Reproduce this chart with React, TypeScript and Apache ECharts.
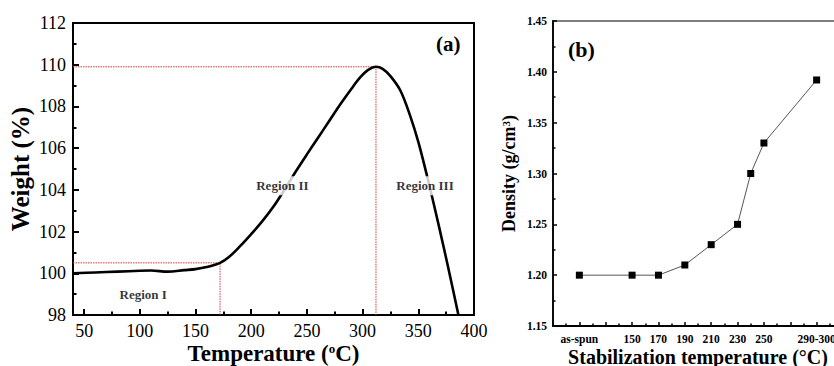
import React, { useEffect, useRef } from "react";
import * as echarts from "echarts";

// ---------- Panel (a): TGA weight curve ----------
const weightTemps = [40, 60, 80, 100, 110, 125, 140, 150, 160, 172, 180, 190, 200, 210, 220, 230, 240, 250, 260, 270, 280, 290, 298, 305, 312, 318, 325, 334, 343, 350, 357, 364, 373, 380, 386];
const weightValues = [100.0, 100.04, 100.08, 100.12, 100.13, 100.08, 100.15, 100.2, 100.3, 100.5, 100.78, 101.3, 101.88, 102.5, 103.2, 104.02, 104.88, 105.7, 106.5, 107.3, 108.1, 108.85, 109.4, 109.75, 109.9, 109.8, 109.45, 108.75, 107.5, 106.3, 104.85, 103.3, 101.2, 99.5, 98.0];
const tempTickLabels = [50, 100, 150, 200, 250, 300, 350, 400];
const tempMinorTicks = [75, 125, 175, 225, 275, 325, 375];
const plateauEnd = [172, 100.5];
const peakPoint = [312, 109.9];
const regionLabels: [number, number, string][] = [
  [103, 99.0, "Region I"],
  [228, 104.2, "Region II"],
  [356, 104.2, "Region III"],
];

// ---------- Panel (b): density ----------
const densityTemps = [110, 150, 170, 190, 210, 230, 240, 250, 290];
const densityValues = [1.2, 1.2, 1.2, 1.21, 1.23, 1.25, 1.3, 1.33, 1.392];
const densityLabelValues = [110, 150, 170, 190, 210, 230, 250, 290];
const densityLabelTexts = ["as-spun", "150", "170", "190", "210", "230", "250", "290-300"];

const SERIF = "'Liberation Serif', 'Times New Roman', serif";

export default function App() {
  const ref = useRef<HTMLDivElement>(null);
  useEffect(() => {
    if (!ref.current) return;
    const chart = echarts.init(ref.current, undefined, { renderer: "svg" });
    const xMin = 40;
    const yMin = 98;
    const option: any = {
      animation: false,
      backgroundColor: "#fff",
      textStyle: { fontFamily: SERIF },
      grid: [
        { left: 73, top: 23, width: 401, height: 292, outerBoundsMode: "none", containLabel: false, show: true, borderColor: "#000", borderWidth: 2, backgroundColor: "transparent" },
        { left: 553, top: 21, width: 290, height: 305, outerBoundsMode: "none", containLabel: false, show: true, borderColor: "#555", borderWidth: 1.5, backgroundColor: "transparent" },
      ],
      xAxis: [
        {
          gridIndex: 0, type: "value", min: xMin, max: 400,
          axisLine: { lineStyle: { color: "#000", width: 2 } },
          axisTick: { inside: true, length: 6, lineStyle: { color: "#000", width: 2 }, customValues: tempTickLabels },
          axisLabel: { customValues: tempTickLabels, color: "#000", fontSize: 18, fontFamily: SERIF, margin: 7 },
          splitLine: { show: false },
          name: "{t|Temperature (}{s|o}{t|C)}",
          nameLocation: "middle", nameGap: 27, nameMoveOverlap: false,
          nameTextStyle: {
            rich: {
              t: { fontSize: 23, fontWeight: "bold", fontFamily: SERIF, color: "#000" },
              s: { fontSize: 13, fontWeight: "bold", fontFamily: SERIF, color: "#000", verticalAlign: "top", lineHeight: 15 },
            },
          },
        },
        {
          gridIndex: 0, type: "value", min: xMin, max: 400, position: "bottom",
          axisLine: { show: false },
          axisTick: { inside: true, length: 3.5, lineStyle: { color: "#000", width: 2 }, customValues: tempMinorTicks },
          axisLabel: { show: false },
          splitLine: { show: false },
        },
        {
          gridIndex: 1, type: "value", min: 90, max: 310, interval: 20,
          axisLine: { lineStyle: { color: "#000", width: 1.8 } },
          axisTick: { inside: true, length: 4, lineStyle: { color: "#000", width: 1.5 } },
          minorTick: { show: true, splitNumber: 2, length: 2.5, lineStyle: { color: "#000", width: 1.5 } },
          axisLabel: {
            color: "#000", fontSize: 11.5, fontWeight: "bold", fontFamily: SERIF, margin: 7,
            formatter: (v: number) => {
              const i = densityLabelValues.indexOf(Math.round(v));
              return i >= 0 ? densityLabelTexts[i] : "";
            },
          },
          splitLine: { show: false },
          name: "Stabilization temperature (°C)",
          nameLocation: "middle", nameGap: 21, nameMoveOverlap: false,
          nameTextStyle: { fontSize: 20, fontWeight: "bold", fontFamily: SERIF, color: "#000" },
        },
      ],
      yAxis: [
        {
          gridIndex: 0, type: "value", min: yMin, max: 112, interval: 2,
          axisLine: { lineStyle: { color: "#000", width: 2 } },
          axisTick: { inside: true, length: 6, lineStyle: { color: "#000", width: 2 } },
          minorTick: { show: true, splitNumber: 2, length: 3.5, lineStyle: { color: "#000", width: 2 } },
          axisLabel: { color: "#000", fontSize: 18, fontFamily: SERIF, margin: 7 },
          splitLine: { show: false },
          name: "Weight (%)",
          nameLocation: "middle", nameGap: 40, nameMoveOverlap: false,
          nameTextStyle: { fontSize: 25, fontWeight: "bold", fontFamily: SERIF, color: "#000" },
        },
        {
          gridIndex: 1, type: "value", min: 1.15, max: 1.45, interval: 0.05,
          axisLine: { lineStyle: { color: "#000", width: 1.8 } },
          axisTick: { inside: true, length: 4, lineStyle: { color: "#000", width: 1.5 } },
          minorTick: { show: true, splitNumber: 2, length: 2.5, lineStyle: { color: "#000", width: 1.5 } },
          axisLabel: { color: "#000", fontSize: 11.5, fontWeight: "bold", fontFamily: SERIF, margin: 6, formatter: (v: number) => v.toFixed(2) },
          splitLine: { show: false },
          name: "{t|Density (g/cm}{s|3}{t|)}",
          nameLocation: "middle", nameGap: 35, nameMoveOverlap: false,
          nameTextStyle: {
            rich: {
              t: { fontSize: 18, fontWeight: "bold", fontFamily: SERIF, color: "#000" },
              s: { fontSize: 11, fontWeight: "bold", fontFamily: SERIF, color: "#000", verticalAlign: "top", lineHeight: 12 },
            },
          },
        },
      ],
      series: [
        {
          type: "line", xAxisIndex: 0, yAxisIndex: 0, z: 2,
          data: [[xMin, plateauEnd[1]], plateauEnd, [plateauEnd[0], yMin]],
          symbol: "none", lineStyle: { color: "#d03a3a", width: 1, type: [1.5, 1] },
        },
        {
          type: "line", xAxisIndex: 0, yAxisIndex: 0, z: 2,
          data: [[xMin, peakPoint[1]], peakPoint, [peakPoint[0], yMin]],
          symbol: "none", lineStyle: { color: "#d03a3a", width: 1, type: [1.5, 1] },
        },
        {
          type: "line", xAxisIndex: 0, yAxisIndex: 0, z: 3,
          data: weightTemps.map((t, i) => [t, weightValues[i]]),
          symbol: "none", smooth: 0.35,
          lineStyle: { color: "#000", width: 2.6 },
        },
        {
          type: "scatter", xAxisIndex: 0, yAxisIndex: 0, z: 5,
          data: regionLabels.map((r) => ({ value: [r[0], r[1]], name: r[2] })),
          symbolSize: 0,
          label: {
            show: true, position: "inside", formatter: (p: any) => p.name,
            fontSize: 13, fontWeight: "bold", fontFamily: SERIF, color: "#000",
            backgroundColor: "#fff", padding: [3, 3],
          },
        },
        {
          type: "line", xAxisIndex: 2, yAxisIndex: 1, z: 3,
          data: densityTemps.map((t, i) => [t, densityValues[i]]),
          symbol: "rect", symbolSize: 7,
          itemStyle: { color: "#000" },
          lineStyle: { color: "#555", width: 1 },
        },
      ],
      graphic: [
        { type: "text", left: 436, top: 33, style: { text: "(a)", font: `bold 21px ${SERIF}`, fill: "#000" } },
        { type: "text", left: 568, top: 38, style: { text: "(b)", font: `bold 22px ${SERIF}`, fill: "#000" } },
      ],
    };
    chart.setOption(option);
    return () => chart.dispose();
  }, []);
  return (
    <div
      ref={ref}
      style={{ position: "fixed", left: 0, top: 0, width: 834, height: 366, background: "#fff" }}
    />
  );
}
